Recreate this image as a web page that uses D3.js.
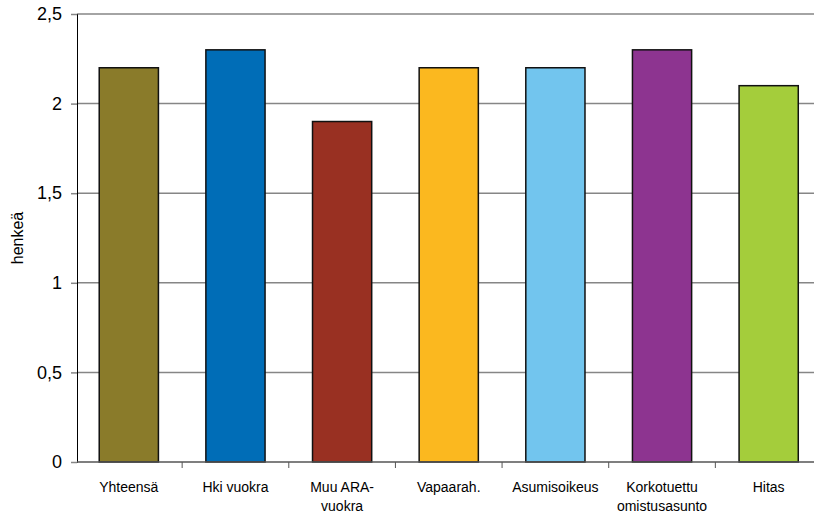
<!DOCTYPE html>
<html>
<head>
<meta charset="utf-8">
<script src="https://cdn.jsdelivr.net/npm/d3@7"></script>
<style>
  body { margin: 0; background: #fff; }
  svg { display: block; font-family: "Liberation Sans", Arial, sans-serif; }
</style>
</head>
<body>
<svg id="chart" width="814" height="516"></svg>
<script>
// Average household size (persons) by housing tenure
const categories = [
  ["Yhteensä"],
  ["Hki vuokra"],
  ["Muu ARA-", "vuokra"],
  ["Vapaarah."],
  ["Asumisoikeus"],
  ["Korkotuettu", "omistusasunto"],
  ["Hitas"]
];
const values = [2.2, 2.3, 1.9, 2.2, 2.2, 2.3, 2.1];
const colors = ["#8a7b2a", "#006db7", "#993022", "#fbb81f", "#72c5ee", "#8d3490", "#a4cd3b"];
const yTicks = [0, 0.5, 1, 1.5, 2, 2.5];
const yTickLabels = ["0", "0,5", "1", "1,5", "2", "2,5"];
const yTitle = "henkeä";

const svg = d3.select("#chart");
const plot = { left: 77, top: 14, bottom: 462, right: 823 };

const x = d3.scaleBand()
  .domain(d3.range(categories.length))
  .range([75.5, 822])
  .paddingInner(0.445)
  .paddingOuter(0.2225);

const y = d3.scaleLinear().domain([0, 2.5]).range([plot.bottom, plot.top]);

// horizontal gridlines
svg.append("g")
  .selectAll("line")
  .data(yTicks.filter(d => d > 0))
  .join("line")
  .attr("x1", plot.left).attr("x2", plot.right)
  .attr("y1", d => y(d)).attr("y2", d => y(d))
  .attr("stroke", "#868686").attr("stroke-width", 1.5);

// bars
svg.append("g")
  .selectAll("rect")
  .data(values)
  .join("rect")
  .attr("x", (d, i) => x(i))
  .attr("y", d => y(d))
  .attr("width", x.bandwidth())
  .attr("height", d => plot.bottom - y(d))
  .attr("fill", (d, i) => colors[i])
  .attr("stroke", "#111")
  .attr("stroke-width", 1.5);

// y axis
const yAxis = d3.axisLeft(y)
  .tickValues(yTicks)
  .tickFormat((d, i) => yTickLabels[i])
  .tickSize(6)
  .tickPadding(9);
const gy = svg.append("g").attr("transform", `translate(${plot.left},0)`).call(yAxis);
gy.select(".domain").attr("stroke", "#000").attr("stroke-width", 1);
gy.selectAll(".tick line").attr("stroke", "#868686").attr("stroke-width", 1.5);
gy.selectAll(".tick text").attr("font-size", 18).attr("fill", "#000");

// x axis baseline and ticks at band boundaries
const bounds = d3.range(categories.length + 1).map(i => 75.5 + i * x.step());
svg.append("line")
  .attr("x1", plot.left).attr("x2", plot.right)
  .attr("y1", plot.bottom).attr("y2", plot.bottom)
  .attr("stroke", "#555").attr("stroke-width", 1.5);
svg.append("g")
  .selectAll("line")
  .data(bounds.slice(1))
  .join("line")
  .attr("x1", d => d).attr("x2", d => d)
  .attr("y1", plot.bottom).attr("y2", plot.bottom + 6)
  .attr("stroke", "#555").attr("stroke-width", 1);

// category labels
const labels = svg.append("g")
  .selectAll("text")
  .data(categories)
  .join("text")
  .attr("x", (d, i) => x(i) + x.bandwidth() / 2)
  .attr("y", 492)
  .attr("text-anchor", "middle")
  .attr("font-size", 14)
  .attr("fill", "#000");
labels.selectAll("tspan")
  .data(d => d)
  .join("tspan")
  .attr("x", function () { return d3.select(this.parentNode).attr("x"); })
  .attr("dy", (d, i) => i === 0 ? 0 : 19)
  .text(d => d);

// y axis title
svg.append("text")
  .attr("transform", `translate(23,${(plot.top + plot.bottom) / 2}) rotate(-90)`)
  .attr("text-anchor", "middle")
  .attr("font-size", 16)
  .attr("fill", "#000")
  .text(yTitle);
</script>
</body>
</html>
